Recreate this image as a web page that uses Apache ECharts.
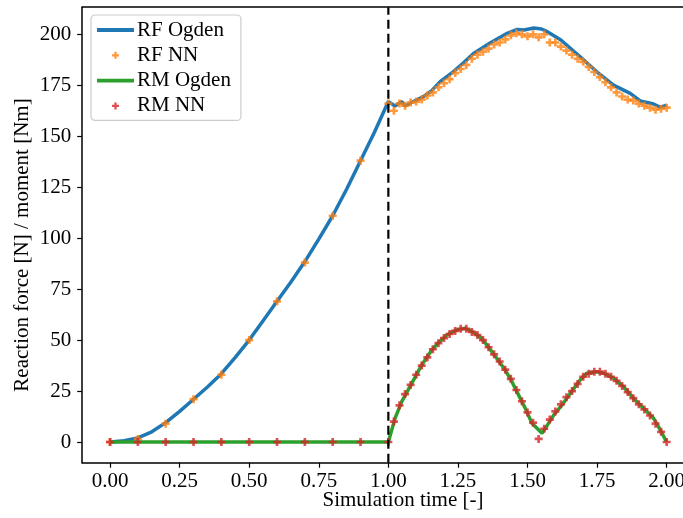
<!DOCTYPE html>
<html>
<head>
<meta charset="utf-8">
<script src="https://cdn.jsdelivr.net/npm/echarts@6/dist/echarts.min.js"></script>
<style>html,body{margin:0;padding:0;background:#fff;overflow:hidden}#c{width:683px;height:518px}</style>
</head>
<body>
<div id="c"></div>
<script>
// ---- data ----
const xTicks = [0, 0.25, 0.5, 0.75, 1.0, 1.25, 1.5, 1.75, 2.0];
const yTicks = [0, 25, 50, 75, 100, 125, 150, 175, 200];
const switchTime = 1.0;

const ogdenRfT = [0,0.05,0.1,0.15,0.2,0.25,0.3,0.35,0.4,0.45,0.5,0.55,0.6,0.65,0.7,0.75,0.8,0.85,0.9,0.95,1.0,
  1.024,1.048,1.06,1.09,1.126,1.156,1.186,1.234,1.27,1.306,1.367,1.427,1.463,1.487,1.523,1.55,1.571,1.62,1.689,1.749,1.809,1.869,1.905,1.953,1.977,2.0];
const ogdenRfV = [0,0.6,2,5,9.5,15,21,27,33.5,41.5,50,59.5,69,78.5,88.5,99.5,111,124,138,152,167,
  164.8,167,164.8,167,169.4,172.4,176.8,181.7,186,190.6,195.9,200.5,202.4,202.1,203.1,202.6,201.3,197.2,189,181.6,175.1,171,167.3,165.8,164.2,165.3];

const ogdenRmT = [0,1.0,1.024,1.048,1.084,1.12,1.156,1.18,1.21,1.246,1.276,1.306,1.33,1.354,1.39,1.42,1.444,1.468,1.492,1.516,1.552,1.564,1.594,1.624,1.654,1.689,1.713,1.749,1.78,1.81,1.845,1.881,1.917,1.953,1.977,2.0];
const ogdenRmV = [0,0,11.6,19.8,28.8,37.8,45.1,48.7,52.5,55,55.8,53.8,51.4,47.6,41,35.3,29.6,23,16.5,9.2,4.3,6.7,13.2,18.2,23.9,30.4,33.7,34.5,33.4,31.2,27.1,21.4,16.5,11.6,5.9,0];

const nnT = [0,0.1,0.2,0.3,0.4,0.5,0.6,0.7,0.8,0.9,1.0,
  1.02,1.04,1.06,1.08,1.10,1.12,1.14,1.16,1.18,1.20,1.22,1.24,1.26,1.28,1.30,1.32,1.34,1.36,1.38,1.40,
  1.42,1.44,1.46,1.48,1.50,1.52,1.54,1.56,1.58,1.60,1.62,1.64,1.66,1.68,1.70,1.72,1.74,1.76,1.78,1.80,
  1.82,1.84,1.86,1.88,1.90,1.92,1.94,1.96,1.98,2.00];
const rfNN = [0,1.5,9,21,33,50,69,88,111,138,166,
  162.5,166,165,166.5,167,168,170,171.5,174,176,178,181,183,185,188,190,191.5,193,195,196,
  197.5,199.5,200.5,200,199,200,198.5,200,196,196,194,192,190,188,186.5,184,181.5,179,176.5,174,
  171.5,169.5,168,167.5,166,165,164,163,163.5,164];
const rmNN = [0,0,0,0,0,0,0,0,0,0,0,
  10,18,23.5,28,33,37.5,41.5,45.5,48.5,51,53,54.5,55.5,55.5,54,52.5,50,46.5,43,39.5,
  35.5,31,25.5,20,14.5,9.5,1.5,6.5,11,15,18.5,22,25,28.5,32,33.5,34.5,34.5,33.5,32,
  30,27.5,24.5,21.5,18.5,16,13,9,5,0];

const seriesNames = ['RF Ogden', 'RF NN', 'RM Ogden', 'RM NN'];
const xName = 'Simulation time [-]';
const yName = 'Reaction force [N] / moment [Nm]';

// ---- chart ----
const X_MIN = -0.1, X_MAX = 2.1, Y_MIN = -10.15, Y_MAX = 213.3;
const zip = (a, b) => a.map((v, i) => [v, b[i]]);
const FONT = 'Liberation Serif';
const PLUS = 'path://M1,0H2V1H3V2H2V3H1V2H0V1H1Z';
const LINEICON = 'path://M0,0H38V4H0Z';

const chart = echarts.init(document.getElementById('c'));
chart.setOption({
  animation: false,
  textStyle: {fontFamily: FONT, color: '#000'},
  grid: {left: 82.2, top: 7.2, width: 612.3, height: 455.5, outerBoundsMode: 'none', show: false},
  xAxis: [{
    type: 'value', min: X_MIN, max: X_MAX,
    splitLine: {show: false},
    axisLine: {show: true, onZero: false, lineStyle: {color: '#000', width: 1.5}},
    axisTick: {show: true, length: 5, lineStyle: {color: '#000', width: 1.2}, customValues: xTicks},
    axisLabel: {fontFamily: FONT, fontSize: 21, color: '#000', margin: 8, customValues: xTicks, formatter: v => v.toFixed(2)}
  }, {
    type: 'value', position: 'top', min: X_MIN, max: X_MAX,
    splitLine: {show: false},
    axisLine: {show: true, onZero: false, lineStyle: {color: '#000', width: 1.5}},
    axisTick: {show: false}, axisLabel: {show: false}
  }],
  yAxis: {
    type: 'value', min: Y_MIN, max: Y_MAX,
    splitLine: {show: false},
    axisLine: {show: true, onZero: false, lineStyle: {color: '#000', width: 1.5}},
    axisTick: {show: true, length: 5, lineStyle: {color: '#000', width: 1.2}, customValues: yTicks},
    axisLabel: {fontFamily: FONT, fontSize: 21, color: '#000', margin: 11, customValues: yTicks}
  },
  legend: {
    orient: 'vertical', left: 91, top: 15,
    padding: [4.5, 10, 4, 6], itemGap: 4.3, itemWidth: 37, itemHeight: 7,
    backgroundColor: 'rgba(255,255,255,0.8)', borderColor: '#cccccc', borderWidth: 1.2, borderRadius: 4,
    textStyle: {fontFamily: FONT, fontSize: 21, color: '#000', lineHeight: 21, padding: [0,0,0,-2]},
    data: [
      {name: seriesNames[0], icon: LINEICON},
      {name: seriesNames[1], icon: PLUS},
      {name: seriesNames[2], icon: LINEICON},
      {name: seriesNames[3], icon: PLUS}
    ]
  },
  graphic: [
    {type: 'text', x: 403, y: 500, style: {text: xName, fontFamily: FONT, fontSize: 21, fill: '#000', align: 'center', verticalAlign: 'middle'}},
    {type: 'text', x: 22, y: 245, rotation: Math.PI / 2, style: {text: yName, fontFamily: FONT, fontSize: 21, fill: '#000', align: 'center', verticalAlign: 'middle'}}
  ],
  series: [
    {name: seriesNames[0], type: 'line', data: zip(ogdenRfT, ogdenRfV), showSymbol: false, symbol: 'none', color: '#1f77b4', lineStyle: {width: 3.5, color: '#1f77b4'}, z: 2},
    {name: seriesNames[1], type: 'scatter', data: zip(nnT, rfNN), symbol: PLUS, symbolSize: 8, color: '#ff7f0e', itemStyle: {color: '#ff7f0e'}, z: 3},
    {name: seriesNames[2], type: 'line', data: zip(ogdenRmT, ogdenRmV), showSymbol: false, symbol: 'none', color: '#2ca02c', lineStyle: {width: 3.5, color: '#2ca02c'}, z: 4},
    {name: seriesNames[3], type: 'scatter', data: zip(nnT, rmNN), symbol: PLUS, symbolSize: 8, color: '#d62728', itemStyle: {color: '#d62728'}, z: 5},
    {name: 'switch', type: 'line', data: [[switchTime, Y_MIN], [switchTime, Y_MAX]], showSymbol: false, symbol: 'none',
      lineStyle: {color: '#000', type: [9, 5], width: 2.2}, z: 10, silent: true, clip: false}
  ]
});
</script>
</body>
</html>
